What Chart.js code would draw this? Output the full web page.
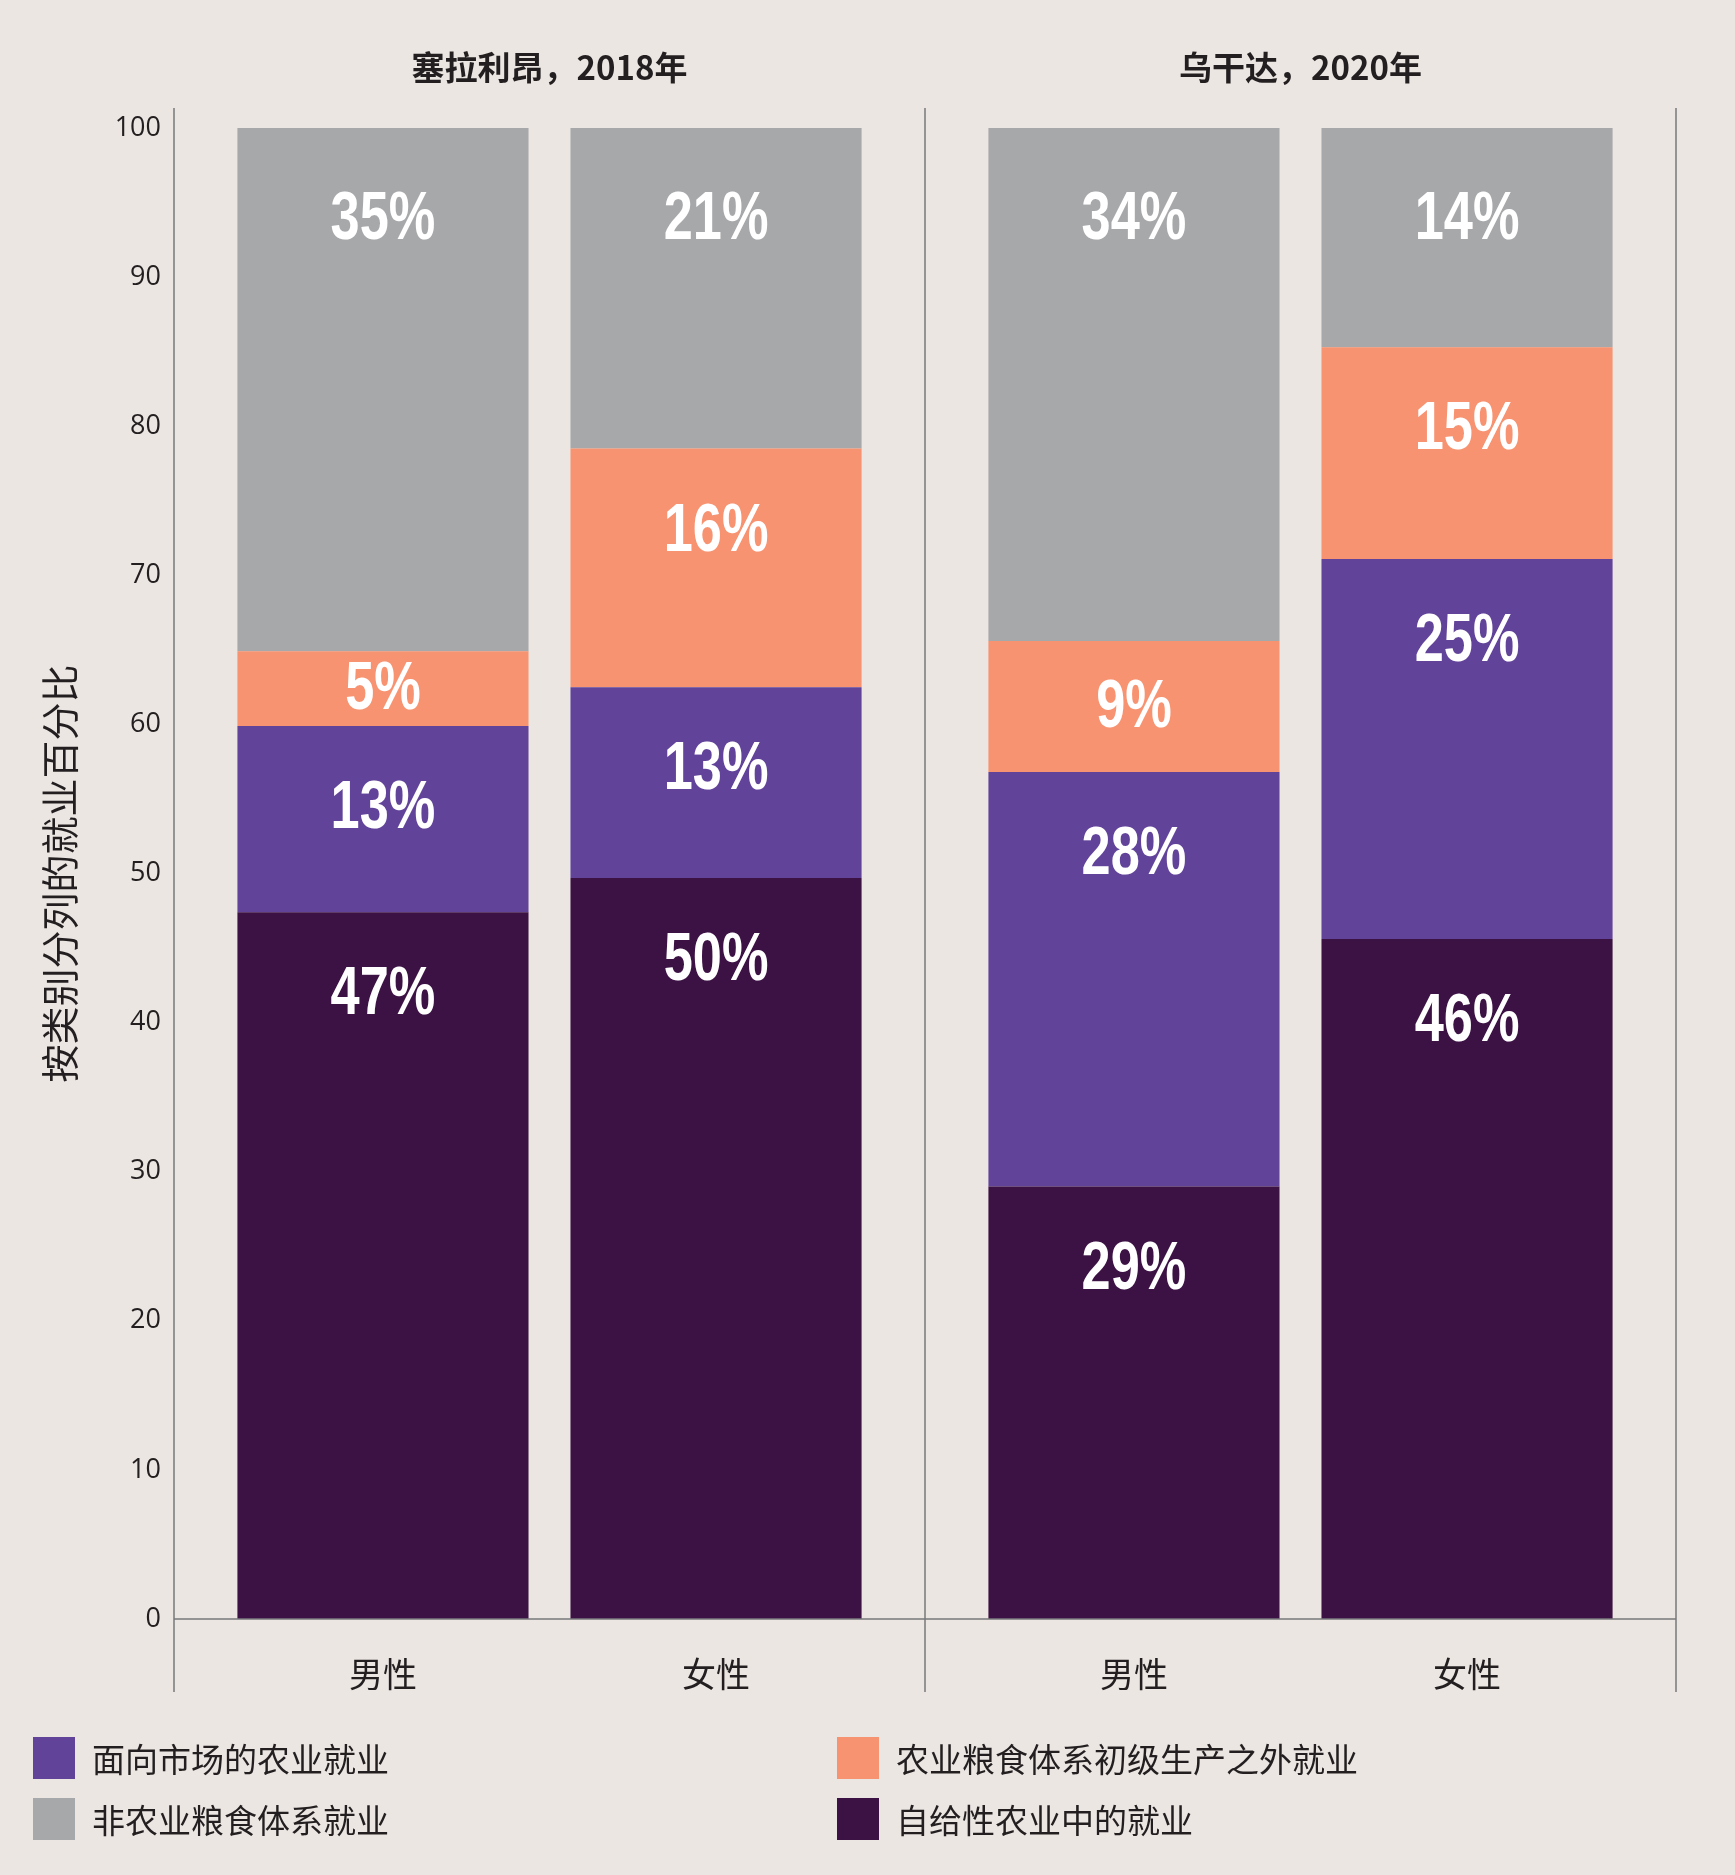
<!DOCTYPE html>
<html>
<head>
<meta charset="utf-8">
<script src="https://cdn.jsdelivr.net/npm/chart.js@4.4.1/dist/chart.umd.min.js"></script>
<style>
  body { margin: 0; background: #ebe6e2; }
  #wrap { position: relative; width: 1735px; height: 1875px; }
  #chart { position: absolute; left: 0; top: 0; }
  #legend { position: absolute; left: 33px; top: 1737px; display: grid; grid-template-columns: 804px auto; grid-auto-rows: 42px; row-gap: 19px; }
  .item { display: flex; align-items: center; height: 42px; line-height: 42px; font-family: "Noto Sans CJK SC", sans-serif; font-size: 33px; color: #231f20; white-space: nowrap; }
  .box { width: 42px; height: 42px; margin-right: 17px; flex: none; }
</style>
</head>
<body>
<div id="wrap">
  <canvas id="chart" width="1735" height="1875"></canvas>
  <div id="legend"></div>
</div>
<script>
// panels and bars
var countries = ['塞拉利昂，2018年', '乌干达，2020年'];
var sexes = ['男性', '女性'];

// order of values: 塞拉利昂 男性, 塞拉利昂 女性, 乌干达 男性, 乌干达 女性
var seriesNames = ['自给性农业中的就业', '面向市场的农业就业', '农业粮食体系初级生产之外就业', '非农业粮食体系就业'];
var subsistence = [47.4, 49.7, 29.0, 45.6];
var market = [12.5, 12.8, 27.8, 25.5];
var beyondPrimary = [5.0, 16.0, 8.8, 14.2];
var nonAgrifood = [35.1, 21.5, 34.4, 14.7];

// percentages printed on the bars
var subsistenceLbl = [47, 50, 29, 46];
var marketLbl = [13, 13, 28, 25];
var beyondPrimaryLbl = [5, 16, 9, 15];
var nonAgrifoodLbl = [35, 21, 34, 14];

var yTicks = [0, 10, 20, 30, 40, 50, 60, 70, 80, 90, 100];
var yTitle = '按类别分列的就业百分比';

var colors = ['#3c1144', '#62439a', '#f79371', '#a7a8aa'];
var textCol = '#231f20';
var lineCol = '#77787b';

var allValues = [subsistence, market, beyondPrimary, nonAgrifood];
var allLabels = [subsistenceLbl, marketLbl, beyondPrimaryLbl, nonAgrifoodLbl];

var datasets = [];
for (var j = 0; j < sexes.length; j++) {
  for (var s = 0; s < seriesNames.length; s++) {
    datasets.push({
      label: seriesNames[s],
      data: [allValues[s][j], allValues[s][2 + j]],
      pct: [allLabels[s][j], allLabels[s][2 + j]],
      backgroundColor: colors[s],
      borderWidth: 0,
      stack: sexes[j],
      sex: j,
      series: s,
      categoryPercentage: 0.887,
      barPercentage: 0.874
    });
  }
}

// panel frame lines + baseline
var framePlugin = {
  id: 'frame',
  afterDatasetsDraw: function (chart) {
    var ctx = chart.ctx, a = chart.chartArea;
    var xs = [a.left, chart.scales.x.getPixelForValue(0.5), a.right];
    ctx.save();
    ctx.strokeStyle = lineCol;
    ctx.lineWidth = 1.5;
    xs.forEach(function (x) {
      ctx.beginPath();
      ctx.moveTo(x, a.top - 20);
      ctx.lineTo(x, a.bottom + 73);
      ctx.stroke();
    });
    var y0 = chart.scales.y.getPixelForValue(0);
    ctx.beginPath();
    ctx.moveTo(a.left, y0);
    ctx.lineTo(a.right, y0);
    ctx.stroke();
    ctx.restore();
  }
};

// white percentages inside the segments, sex names below the bars
var labelPlugin = {
  id: 'pctLabels',
  afterDatasetsDraw: function (chart) {
    var ctx = chart.ctx;
    chart.data.datasets.forEach(function (ds, i) {
      var meta = chart.getDatasetMeta(i);
      meta.data.forEach(function (bar, k) {
        var top = Math.min(bar.y, bar.base);
        var h = Math.abs(bar.base - bar.y);
        var off = ds.series === seriesNames.length - 1 ? 87 : 78;
        var mid = top + Math.min(off, h / 2 - 4);
        // condensed look: squeeze a bold face horizontally
        ctx.save();
        ctx.fillStyle = '#ffffff';
        ctx.font = 'bold 68px "Liberation Sans", Arial, sans-serif';
        ctx.textAlign = 'center';
        ctx.textBaseline = 'alphabetic';
        ctx.translate(bar.x, mid + 24);
        ctx.scale(0.77, 1);
        ctx.fillText(ds.pct[k] + '%', 0, 0);
        ctx.restore();
        if (ds.series === 0) {
          ctx.save();
          ctx.fillStyle = textCol;
          ctx.font = '34px "Noto Sans CJK SC", sans-serif';
          ctx.textAlign = 'center';
          ctx.textBaseline = 'middle';
          ctx.fillText(sexes[ds.sex], bar.x, chart.chartArea.bottom + 55);
          ctx.restore();
        }
      });
    });
  }
};

var myChart = new Chart(document.getElementById('chart'), {
  type: 'bar',
  data: { labels: countries, datasets: datasets },
  options: {
    responsive: false,
    animation: false,
    layout: { padding: { left: 0, right: 59, top: 0, bottom: 256 } },
    plugins: { legend: { display: false }, tooltip: { enabled: false } },
    scales: {
      x: {
        position: 'top',
        stacked: true,
        grid: { display: false, drawTicks: false },
        border: { display: false },
        ticks: {
          color: textCol,
          font: { family: '"Noto Sans CJK SC", sans-serif', size: 33, weight: 'bold' },
          padding: 41,
          maxRotation: 0,
          autoSkip: false
        },
        afterFit: function (s) { s.height = 128; }
      },
      y: {
        stacked: true,
        min: 0,
        max: 100,
        grid: { display: false, drawTicks: false },
        border: { display: false },
        afterBuildTicks: function (s) { s.ticks = yTicks.map(function (v) { return { value: v }; }); },
        ticks: {
          color: textCol,
          font: { family: '"Open Sans", sans-serif', size: 27 },
          padding: 13
        },
        title: {
          display: true,
          text: yTitle,
          color: textCol,
          font: { family: '"Noto Sans CJK SC", sans-serif', size: 38 },
          padding: { top: 37, bottom: 0 }
        },
        afterFit: function (s) { s.width = 174; }
      }
    }
  },
  plugins: [framePlugin, labelPlugin]
});

// legend in the reference's two-column order
var legendOrder = [1, 2, 3, 0];
var legend = document.getElementById('legend');
legendOrder.forEach(function (s) {
  var item = document.createElement('div');
  item.className = 'item';
  var box = document.createElement('span');
  box.className = 'box';
  box.style.background = colors[s];
  item.appendChild(box);
  item.appendChild(document.createTextNode(seriesNames[s]));
  legend.appendChild(item);
});
</script>
</body>
</html>
